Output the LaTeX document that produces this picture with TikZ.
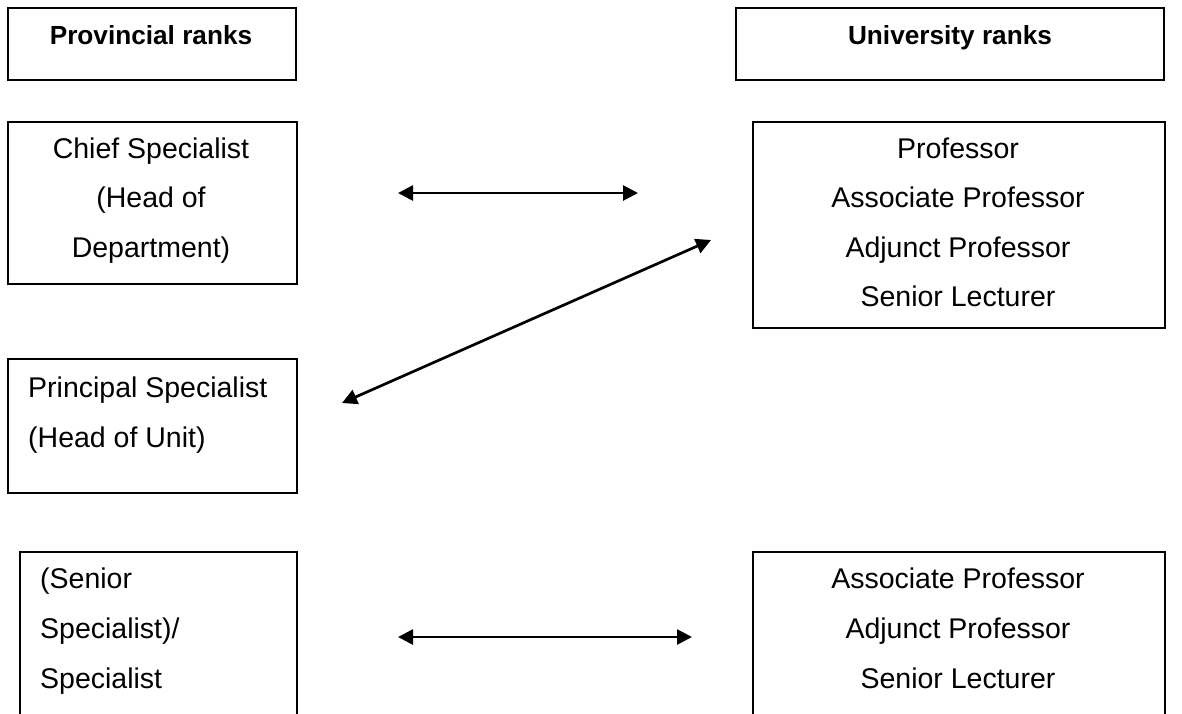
\documentclass[tikz,border=0pt]{standalone}
\usepackage{fontspec}
\setmainfont{Liberation Sans}
\usetikzlibrary{arrows.meta}
\begin{document}
\begin{tikzpicture}[x=1pt,y=-1pt,
  box/.style={draw=black, line width=1.8pt, rectangle, inner sep=0pt, anchor=north west},
  txt/.style={inner sep=0pt, font=\fontsize{28.5pt}{34pt}\selectfont},
  head/.style={inner sep=0pt, font=\fontsize{26.2pt}{31pt}\selectfont\bfseries},
  link/.style={line width=2.7pt, {Triangle[length=15pt,width=15pt]}-{Triangle[length=15pt,width=15pt]}}]
\useasboundingbox (0,0) rectangle (1182,713);
\clip (0,0) rectangle (1182,713);
% header boxes
\node[box, minimum width=288pt, minimum height=72pt] (A) at (7,7) {};
\node[head, anchor=base] (At) at (151,44) {Provincial ranks};
\node[box, minimum width=428pt, minimum height=72pt] (B) at (735,7) {};
\node[head, anchor=base] (Bt) at (950,44) {University ranks};
% Chief specialist
\node[box, minimum width=289pt, minimum height=162pt] (C) at (7,121) {};
\foreach \t [count=\i] in {{Chief Specialist},{(Head of},{Department)}}
  \node[txt, anchor=base] (C\i) at (151,{158+49.5*(\i-1)}) {\t};
% Professor group
\node[box, minimum width=412pt, minimum height=206pt] (D) at (752,121) {};
\foreach \t [count=\i] in {{Professor},{Associate Professor},{Adjunct Professor},{Senior Lecturer}}
  \node[txt, anchor=base] (D\i) at (958,{158+49.5*(\i-1)}) {\t};
% Principal specialist
\node[box, minimum width=289pt, minimum height=134pt] (E) at (7,358) {};
\foreach \t [count=\i] in {{Principal Specialist},{(Head of Unit)}}
  \node[txt, anchor=base west] (E\i) at (28,{397+50*(\i-1)}) {\t};
% Senior specialist
\node[box, minimum width=277pt, minimum height=220pt] (F) at (19,551) {};
\foreach \t [count=\i] in {{(Senior},{Specialist)/},{Specialist}}
  \node[txt, anchor=base west] (F\i) at (40,{588+50*(\i-1)}) {\t};
% Associate professor group
\node[box, minimum width=412pt, minimum height=220pt] (G) at (752,551) {};
\foreach \t [count=\i] in {{Associate Professor},{Adjunct Professor},{Senior Lecturer}}
  \node[txt, anchor=base] (G\i) at (958,{588+50*(\i-1)}) {\t};
% arrow end points
\coordinate (a1l) at (398,193);
\coordinate (a1r) at (638,193);
\coordinate (a2u) at (711,240);
\coordinate (a2d) at (342,403);
\coordinate (a3l) at (398,637);
\coordinate (a3r) at (692,637);
\draw[link] (a1l) -- (a1r);
\draw[link] (a2d) -- (a2u);
\draw[link] (a3l) -- (a3r);
\end{tikzpicture}
\end{document}
